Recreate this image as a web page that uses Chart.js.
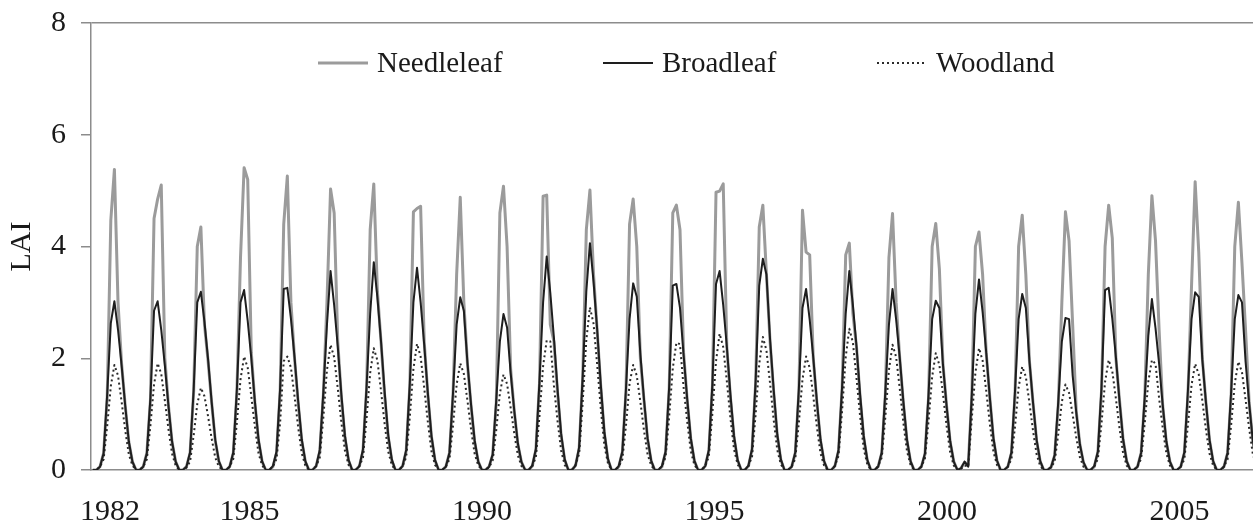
<!DOCTYPE html>
<html>
<head>
<meta charset="utf-8">
<title>LAI</title>
<script src="https://cdn.jsdelivr.net/npm/chart.js@4.4.1/dist/chart.umd.min.js"></script>
<style>
    html, body { margin: 0; padding: 0; background: #ffffff; }
    #wrap { width: 1253px; height: 528px; }
</style>
</head>
<body>
<div id="wrap"><canvas id="laiChart" width="1253" height="528"></canvas></div>
<script>
// monthly LAI, one row per year (Jan..Dec)
const years = [
    1982, 1983, 1984, 1985, 1986, 1987, 1988, 1989, 1990, 1991, 1992, 1993, 1994, 1995,
    1996, 1997, 1998, 1999, 2000, 2001, 2002, 2003, 2004, 2005, 2006, 2007, 2008
];

const needleleaf = [
    [0, 0, 0.06, 0.3, 1.3, 4.47, 5.38, 3.0, 1.9, 1.15, 0.5, 0.15],
    [0, 0, 0.06, 0.3, 1.25, 4.5, 4.85, 5.1, 2.0, 1.15, 0.5, 0.15],
    [0, 0, 0.06, 0.3, 1.4, 4.0, 4.35, 2.6, 1.95, 1.2, 0.52, 0.15],
    [0, 0, 0.06, 0.3, 1.4, 3.8, 5.41, 5.2, 2.1, 1.2, 0.53, 0.15],
    [0, 0, 0.06, 0.3, 1.4, 4.4, 5.26, 3.0, 2.0, 1.2, 0.53, 0.15],
    [0, 0, 0.07, 0.33, 1.35, 3.0, 5.03, 4.6, 2.3, 1.3, 0.58, 0.17],
    [0, 0, 0.07, 0.34, 1.45, 4.3, 5.12, 3.2, 2.3, 1.35, 0.6, 0.17],
    [0, 0, 0.07, 0.34, 1.5, 4.62, 4.68, 4.72, 2.3, 1.35, 0.6, 0.17],
    [0, 0, 0.06, 0.3, 1.35, 3.5, 4.88, 3.0, 1.9, 1.15, 0.5, 0.15],
    [0, 0, 0.06, 0.27, 1.2, 4.6, 5.08, 4.0, 1.8, 1.05, 0.46, 0.14],
    [0, 0, 0.07, 0.36, 1.55, 4.9, 4.92, 2.6, 2.3, 1.4, 0.62, 0.18],
    [0, 0, 0.08, 0.38, 1.65, 4.3, 5.01, 3.5, 2.5, 1.5, 0.66, 0.19],
    [0, 0, 0.06, 0.32, 1.4, 4.4, 4.85, 4.0, 2.0, 1.25, 0.55, 0.16],
    [0, 0, 0.06, 0.32, 1.45, 4.6, 4.74, 4.3, 2.1, 1.25, 0.55, 0.16],
    [0, 0, 0.07, 0.34, 1.5, 4.97, 4.99, 5.12, 2.2, 1.3, 0.58, 0.17],
    [0, 0, 0.07, 0.36, 1.55, 4.35, 4.74, 3.5, 2.3, 1.4, 0.62, 0.18],
    [0, 0, 0.06, 0.3, 1.4, 4.65, 3.9, 3.85, 2.0, 1.2, 0.53, 0.15],
    [0, 0, 0.07, 0.34, 1.45, 3.85, 4.06, 2.8, 2.2, 1.3, 0.58, 0.17],
    [0, 0, 0.06, 0.3, 1.35, 3.8, 4.59, 3.0, 2.0, 1.2, 0.53, 0.15],
    [0, 0, 0.06, 0.28, 1.3, 4.0, 4.41, 3.6, 1.9, 1.15, 0.5, 0.15],
    [0, 0.03, 0.14, 0.08, 1.3, 4.0, 4.26, 3.5, 2.1, 1.3, 0.56, 0.16],
    [0, 0, 0.06, 0.3, 1.35, 4.0, 4.56, 3.5, 1.95, 1.2, 0.52, 0.15],
    [0, 0, 0.05, 0.26, 1.15, 3.0, 4.62, 4.1, 2.6, 1.05, 0.46, 0.13],
    [0, 0, 0.06, 0.32, 1.4, 4.0, 4.74, 4.15, 2.0, 1.25, 0.55, 0.16],
    [0, 0, 0.06, 0.3, 1.25, 3.5, 4.91, 4.1, 2.5, 1.15, 0.5, 0.15],
    [0, 0, 0.06, 0.3, 1.35, 3.3, 5.16, 3.9, 2.0, 1.2, 0.53, 0.15],
    [0, 0, 0.06, 0.3, 1.35, 4.0, 4.79, 3.7, 2.5, 1.2, 0.53, 0.15]
];

const broadleaf = [
    [0, 0, 0.06, 0.3, 1.36, 2.63, 3.02, 2.51, 1.87, 1.15, 0.51, 0.15],
    [0, 0, 0.06, 0.3, 1.3, 2.85, 3.02, 2.51, 1.87, 1.15, 0.51, 0.15],
    [0, 0, 0.06, 0.32, 1.44, 3.0, 3.19, 2.65, 1.98, 1.21, 0.54, 0.16],
    [0, 0, 0.06, 0.32, 1.45, 3.0, 3.22, 2.67, 2.0, 1.22, 0.55, 0.16],
    [0, 0, 0.07, 0.33, 1.47, 3.24, 3.26, 2.71, 2.02, 1.24, 0.55, 0.16],
    [0, 0, 0.07, 0.36, 1.4, 2.6, 3.56, 2.95, 2.21, 1.35, 0.61, 0.18],
    [0, 0, 0.07, 0.37, 1.5, 2.8, 3.72, 3.09, 2.31, 1.41, 0.63, 0.19],
    [0, 0, 0.07, 0.36, 1.55, 3.0, 3.62, 3.0, 2.24, 1.38, 0.62, 0.18],
    [0, 0, 0.06, 0.31, 1.39, 2.6, 3.09, 2.85, 1.92, 1.17, 0.53, 0.15],
    [0, 0, 0.06, 0.28, 1.26, 2.3, 2.79, 2.55, 1.73, 1.06, 0.47, 0.14],
    [0, 0, 0.08, 0.38, 1.6, 3.0, 3.82, 3.17, 2.37, 1.45, 0.65, 0.19],
    [0, 0, 0.08, 0.41, 1.7, 3.2, 4.06, 3.37, 2.52, 1.54, 0.69, 0.2],
    [0, 0, 0.07, 0.33, 1.45, 2.7, 3.34, 3.1, 2.07, 1.27, 0.57, 0.17],
    [0, 0, 0.07, 0.33, 1.5, 3.3, 3.33, 2.9, 2.06, 1.27, 0.57, 0.17],
    [0, 0, 0.07, 0.36, 1.55, 3.33, 3.56, 2.95, 2.21, 1.35, 0.61, 0.18],
    [0, 0, 0.08, 0.38, 1.6, 3.3, 3.78, 3.5, 2.34, 1.44, 0.64, 0.19],
    [0, 0, 0.06, 0.32, 1.46, 2.9, 3.24, 2.69, 2.01, 1.23, 0.55, 0.16],
    [0, 0, 0.07, 0.36, 1.5, 2.8, 3.56, 2.95, 2.21, 1.35, 0.61, 0.18],
    [0, 0, 0.06, 0.32, 1.4, 2.6, 3.24, 2.69, 2.01, 1.23, 0.55, 0.16],
    [0, 0, 0.06, 0.3, 1.36, 2.7, 3.03, 2.9, 1.88, 1.15, 0.52, 0.15],
    [0, 0.03, 0.15, 0.06, 1.35, 2.8, 3.41, 2.83, 2.11, 1.3, 0.58, 0.17],
    [0, 0, 0.06, 0.32, 1.42, 2.7, 3.15, 2.9, 1.95, 1.2, 0.54, 0.16],
    [0, 0, 0.05, 0.27, 1.22, 2.3, 2.72, 2.7, 1.69, 1.03, 0.46, 0.14],
    [0, 0, 0.07, 0.33, 1.47, 3.22, 3.26, 2.71, 2.02, 1.24, 0.55, 0.16],
    [0, 0, 0.06, 0.31, 1.3, 2.4, 3.06, 2.54, 1.9, 1.16, 0.52, 0.15],
    [0, 0, 0.06, 0.32, 1.43, 2.7, 3.18, 3.1, 1.97, 1.21, 0.54, 0.16],
    [0, 0, 0.06, 0.31, 1.41, 2.7, 3.13, 3.0, 1.94, 1.19, 0.53, 0.16]
];

const woodland = [
    [0, 0, 0.06, 0.19, 0.79, 1.5, 1.88, 1.69, 1.22, 0.71, 0.28, 0.08],
    [0, 0, 0.06, 0.19, 0.8, 1.53, 1.91, 1.72, 1.24, 0.73, 0.29, 0.08],
    [0, 0, 0.04, 0.15, 0.62, 1.18, 1.47, 1.32, 0.96, 0.56, 0.22, 0.06],
    [0, 0, 0.06, 0.2, 0.85, 1.62, 2.03, 1.83, 1.32, 0.77, 0.3, 0.08],
    [0, 0, 0.06, 0.2, 0.85, 1.95, 2.03, 1.83, 1.32, 0.77, 0.3, 0.08],
    [0, 0, 0.07, 0.22, 0.94, 1.79, 2.24, 2.02, 1.46, 0.85, 0.34, 0.09],
    [0, 0, 0.07, 0.22, 0.92, 1.74, 2.18, 1.96, 1.42, 0.83, 0.33, 0.09],
    [0, 0, 0.07, 0.23, 0.95, 1.81, 2.26, 2.03, 1.47, 0.86, 0.34, 0.09],
    [0, 0, 0.06, 0.19, 0.8, 1.53, 1.91, 1.72, 1.24, 0.73, 0.29, 0.08],
    [0, 0, 0.05, 0.17, 0.72, 1.37, 1.71, 1.54, 1.11, 0.65, 0.26, 0.07],
    [0, 0, 0.07, 0.23, 0.97, 1.86, 2.32, 2.3, 1.51, 0.88, 0.35, 0.09],
    [0, 0, 0.09, 0.29, 1.22, 2.33, 2.91, 2.62, 1.89, 1.11, 0.44, 0.12],
    [0, 0, 0.06, 0.19, 0.79, 1.55, 1.88, 1.69, 1.22, 0.71, 0.28, 0.08],
    [0, 0, 0.07, 0.23, 0.96, 1.82, 2.28, 2.25, 1.48, 0.87, 0.34, 0.09],
    [0, 0, 0.07, 0.24, 1.02, 1.95, 2.44, 2.2, 1.59, 0.93, 0.37, 0.1],
    [0, 0, 0.07, 0.24, 1.0, 1.9, 2.38, 2.14, 1.55, 0.9, 0.36, 0.1],
    [0, 0, 0.06, 0.2, 0.85, 1.62, 2.03, 1.83, 1.32, 0.77, 0.3, 0.08],
    [0, 0, 0.08, 0.25, 1.06, 2.02, 2.53, 2.28, 1.64, 0.96, 0.38, 0.1],
    [0, 0, 0.07, 0.22, 0.94, 1.79, 2.24, 2.02, 1.46, 0.85, 0.34, 0.09],
    [0, 0, 0.06, 0.21, 0.88, 1.67, 2.09, 1.88, 1.36, 0.79, 0.31, 0.08],
    [0, 0.02, 0.08, 0.06, 0.92, 1.74, 2.18, 1.96, 1.42, 0.83, 0.33, 0.09],
    [0, 0, 0.06, 0.19, 0.78, 1.48, 1.85, 1.67, 1.2, 0.7, 0.28, 0.07],
    [0, 0, 0.05, 0.15, 0.64, 1.22, 1.53, 1.38, 0.99, 0.58, 0.23, 0.06],
    [0, 0, 0.06, 0.2, 0.83, 1.58, 1.97, 1.77, 1.28, 0.75, 0.3, 0.08],
    [0, 0, 0.06, 0.2, 0.83, 1.58, 1.97, 1.9, 1.28, 0.75, 0.3, 0.08],
    [0, 0, 0.06, 0.19, 0.8, 1.52, 1.9, 1.71, 1.24, 0.72, 0.29, 0.08],
    [0, 0, 0.06, 0.19, 0.81, 1.55, 1.94, 1.75, 1.26, 0.74, 0.29, 0.08]
];

const yearLabels = [1982, 1985, 1990, 1995, 2000, 2005];
const laiTicks = [0, 2, 4, 6, 8];

const serif = '"Liberation Serif", "Times New Roman", serif';
const axisGrey = "#8c8c8c";
const ink = "#1a1a1a";

// month m of a year sits in the middle of that month
function toPoints(rows) {
    const pts = [];
    rows.forEach((row, i) => {
        row.forEach((v, m) => pts.push({ x: years[i] + (m + 0.5) / 12, y: v }));
    });
    return pts;
}

// short line + name for each series, drawn inside the plot
const lineLegend = {
    id: "lineLegend",
    afterDatasetsDraw(chart, args, opts) {
        const ctx = chart.ctx;
        ctx.save();
        chart.data.datasets.forEach((ds, i) => {
            const x = opts.x[i];
            const y = opts.y;
            ctx.strokeStyle = ds.borderColor;
            ctx.lineWidth = ds.borderWidth;
            ctx.setLineDash(ds.borderDash || []);
            ctx.beginPath();
            ctx.moveTo(x, y);
            ctx.lineTo(x + opts.lineLength, y);
            ctx.stroke();
            ctx.setLineDash([]);
            ctx.fillStyle = ink;
            ctx.font = opts.font;
            ctx.textBaseline = "middle";
            ctx.fillText(ds.label, x + opts.lineLength + opts.gap, y + 1);
        });
        ctx.restore();
    }
};

const ctx = document.getElementById("laiChart").getContext("2d");
new Chart(ctx, {
    type: "line",
    data: {
        datasets: [
            {
                label: "Needleleaf",
                data: toPoints(needleleaf),
                borderColor: "#9b9b9b",
                borderWidth: 3,
                order: 3,
            },
            {
                label: "Broadleaf",
                data: toPoints(broadleaf),
                borderColor: "#1e1e1e",
                borderWidth: 2,
                order: 1,
            },
            {
                label: "Woodland",
                data: toPoints(woodland),
                borderColor: "#2a2a2a",
                borderWidth: 2,
                borderDash: [2, 3],
                order: 2,
            }
        ],
    },
    options: {
        responsive: false,
        animation: false,
        devicePixelRatio: 1,
        layout: { padding: { top: 23, right: 0, bottom: 0, left: 0 } },
        elements: {
            point: { radius: 0 },
            line: { tension: 0, borderJoinStyle: "round", fill: false },
        },
        plugins: {
            legend: { display: false },
            tooltip: { enabled: false },
            lineLegend: {
                x: [318, 603, 877],
                y: 63,
                lineLength: 50,
                gap: 9,
                font: "29px " + serif,
            },
        },
        scales: {
            x: {
                type: "linear",
                display: false,
                min: 1982,
                max: 2008.88,
            },
            years: {
                type: "linear",
                position: "bottom",
                min: 1981.59,
                max: 2006.58,
                grid: { display: false, drawTicks: false },
                border: { display: true, color: axisGrey, width: 1.5 },
                afterBuildTicks: (axis) => {
                    axis.ticks = yearLabels.map((v) => ({ value: v }));
                },
                afterFit: (axis) => { axis.height = 58; },
                ticks: {
                    autoSkip: false,
                    maxRotation: 0,
                    padding: 24,
                    color: ink,
                    font: { family: serif, size: 30 },
                    callback: (v) => String(v),
                },
            },
            y: {
                min: 0,
                max: 8,
                afterBuildTicks: (axis) => {
                    axis.ticks = laiTicks.map((v) => ({ value: v }));
                },
                afterFit: (axis) => {
                    axis.width = 91;
                    // the outer padding already leaves room for the top label
                    axis.paddingTop = 0;
                    axis.paddingBottom = 0;
                },
                grid: {
                    color: (c) => (c.tick && c.tick.value === 8 ? axisGrey : "transparent"),
                    lineWidth: 1.5,
                    drawTicks: true,
                    tickLength: 10,
                    tickColor: axisGrey,
                },
                border: { display: true, color: axisGrey, width: 1.5 },
                ticks: {
                    padding: 15,
                    color: ink,
                    font: { family: serif, size: 30 },
                },
                title: {
                    display: true,
                    text: "LAI",
                    color: ink,
                    font: { family: serif, size: 30 },
                    padding: { top: 4, bottom: 0 },
                },
            },
        },
    },
    plugins: [lineLegend],
});
</script>
</body>
</html>
